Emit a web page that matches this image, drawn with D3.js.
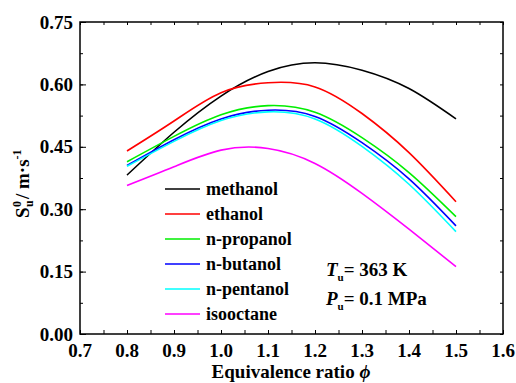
<!DOCTYPE html>
<html>
<head>
<meta charset="utf-8">
<script src="https://cdn.jsdelivr.net/npm/d3@7"></script>
<style>
  body { margin: 0; background: #fff; }
</style>
</head>
<body>
<svg id="chart" width="516" height="383" font-family="'Liberation Serif', 'DejaVu Serif', serif" font-weight="bold"></svg>
<script>
const phi = [0.8, 0.9, 1.0, 1.1, 1.2, 1.3, 1.4, 1.5];

const methanol  = [0.382, 0.485, 0.572, 0.631, 0.652, 0.634, 0.590, 0.517];
const ethanol   = [0.440, 0.512, 0.580, 0.604, 0.594, 0.530, 0.436, 0.318];
const propanol  = [0.414, 0.475, 0.527, 0.549, 0.533, 0.472, 0.388, 0.282];
const butanol   = [0.405, 0.467, 0.517, 0.538, 0.523, 0.460, 0.373, 0.260];
const pentanol  = [0.403, 0.463, 0.513, 0.534, 0.517, 0.451, 0.360, 0.246];
const isooctane = [0.357, 0.402, 0.442, 0.446, 0.410, 0.338, 0.252, 0.162];

const seriesNames = ["methanol", "ethanol", "n-propanol", "n-butanol", "n-pentanol", "isooctane"];
const seriesValues = [methanol, ethanol, propanol, butanol, pentanol, isooctane];
const seriesColors = ["#000000", "#ff0000", "#00ee00", "#0000ff", "#00ffff", "#ff00ff"];

const xTicks = [0.7, 0.8, 0.9, 1.0, 1.1, 1.2, 1.3, 1.4, 1.5, 1.6];
const yTicks = [0.00, 0.15, 0.30, 0.45, 0.60, 0.75];

const plot = { left: 80, right: 503, top: 22, bottom: 334 };
const svg = d3.select("#chart");

const x = d3.scaleLinear().domain([0.7, 1.6]).range([plot.left, plot.right]);
const y = d3.scaleLinear().domain([0, 0.75]).range([plot.bottom, plot.top]);

const xMinor = d3.range(0, 19).map(i => 0.7 + i * 0.05);
const yMinor = d3.range(0, 11).map(i => i * 0.075);

// axes, ticks pointing inward
function styleAxis(g) {
    g.attr("font-family", null).attr("font-size", null);
    g.select(".domain").remove();
    g.selectAll("line").attr("stroke", "#000").attr("stroke-width", 1);
}
svg.append("g").attr("transform", `translate(0,${plot.bottom})`)
    .call(d3.axisBottom(x).tickValues(xMinor).tickSize(-4).tickFormat(""))
    .call(styleAxis);
svg.append("g").attr("transform", `translate(0,${plot.top})`)
    .call(d3.axisTop(x).tickValues(xMinor).tickSize(-3).tickFormat(""))
    .call(styleAxis);
svg.append("g").attr("transform", `translate(${plot.left},0)`)
    .call(d3.axisLeft(y).tickValues(yMinor).tickSize(-3).tickFormat(""))
    .call(styleAxis);
svg.append("g").attr("transform", `translate(${plot.left},0)`)
    .call(d3.axisLeft(y).tickValues(yTicks).tickSize(-6).tickFormat(""))
    .call(styleAxis);
svg.append("g").attr("transform", `translate(${plot.right},0)`)
    .call(d3.axisRight(y).tickValues(yMinor).tickSize(-3).tickFormat(""))
    .call(styleAxis);

// tick labels
svg.append("g").selectAll("text").data(xTicks).enter().append("text")
    .attr("x", d => x(d)).attr("y", 357)
    .attr("text-anchor", "middle").attr("font-size", 19)
    .text(d => d.toFixed(1));
svg.append("g").selectAll("text").data(yTicks).enter().append("text")
    .attr("x", 73).attr("y", d => y(d) + 6.5)
    .attr("text-anchor", "end").attr("font-size", 19)
    .text(d => d.toFixed(2));

// frame
svg.append("rect")
    .attr("x", plot.left).attr("y", plot.top)
    .attr("width", plot.right - plot.left).attr("height", plot.bottom - plot.top)
    .attr("fill", "none").attr("stroke", "#000").attr("stroke-width", 1.5);

// curves
const line = d3.line().x(d => x(d[0])).y(d => y(d[1])).curve(d3.curveNatural);
seriesValues.forEach((vals, i) => {
    svg.append("path")
        .datum(phi.map((p, j) => [p, vals[j]]))
        .attr("d", line)
        .attr("fill", "none")
        .attr("stroke", seriesColors[i])
        .attr("stroke-width", 1.6);
});

// legend
const legend = svg.append("g");
seriesNames.forEach((name, i) => {
    const ly = 189 + i * 25;
    legend.append("line")
        .attr("x1", 165).attr("x2", 200).attr("y1", ly).attr("y2", ly)
        .attr("stroke", seriesColors[i]).attr("stroke-width", 1.6);
    legend.append("text")
        .attr("x", 206).attr("y", ly + 6)
        .attr("font-size", 18)
        .text(name);
});

// conditions
function condition(yPos, sym, rest) {
    const t = svg.append("text").attr("x", 326).attr("y", yPos).attr("font-size", 19);
    t.append("tspan").attr("font-style", "italic").text(sym);
    t.append("tspan").attr("dy", 5).attr("font-size", 11).text("u");
    t.append("tspan").attr("dy", -5).text("= " + rest);
}
condition(276, "T", "363 K");
condition(305, "P", "0.1 MPa");

// x axis title
const xt = svg.append("text").attr("x", 291).attr("y", 378)
    .attr("text-anchor", "middle").attr("font-size", 19);
xt.append("tspan").text("Equivalence ratio ");
xt.append("tspan").attr("font-style", "italic").text("\u03d5");

// y axis title
const yt = svg.append("g").attr("transform", "translate(29,172) rotate(-90)");
yt.append("text").attr("x", -46).attr("y", 0).attr("font-size", 19).text("S");
yt.append("text").attr("x", -35).attr("y", -8).attr("font-size", 12).text("0");
yt.append("text").attr("x", -35).attr("y", 4).attr("font-size", 12).text("u");
const ytr = yt.append("text").attr("x", -27).attr("y", 0).attr("font-size", 19);
ytr.append("tspan").text(" / m\u00b7s");
ytr.append("tspan").attr("dy", -8).attr("font-size", 12).text("-1");
</script>
</body>
</html>
